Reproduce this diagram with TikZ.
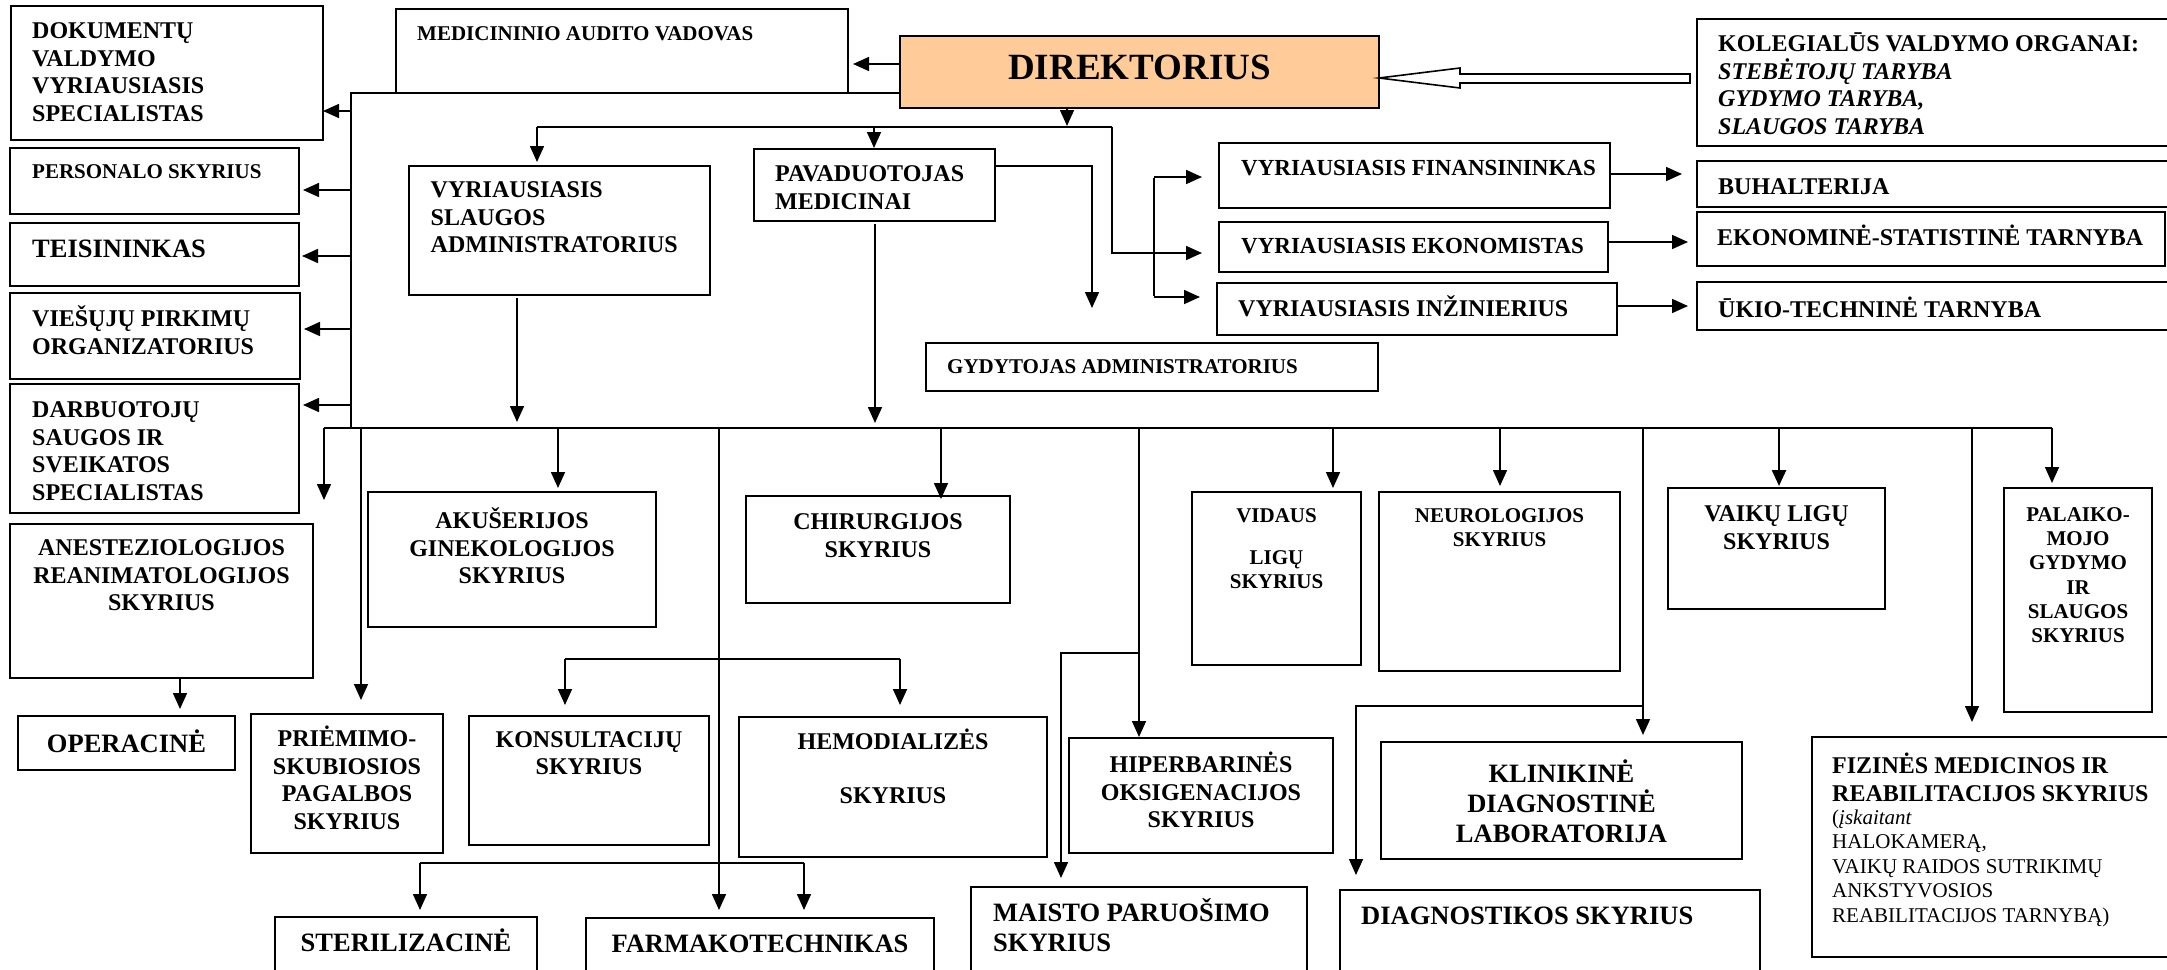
\documentclass[tikz,border=0pt]{standalone}
\usepackage{fontspec}
\setmainfont{Liberation Serif}
\usetikzlibrary{arrows.meta,
	positioning,
	fit,
	calc}
\definecolor{peach}{HTML}{FFCC99}
\tikzstyle{orgbox}=[draw, line width=2.2pt, inner sep=0, outer sep=0]
\tikzstyle{boss}=[orgbox, fill=peach]
\tikzstyle{lt}=[anchor=north west, inner sep=0, align=left]
\tikzstyle{ct}=[anchor=north, inner sep=0, align=center]
\tikzstyle{ln}=[line width=1.6pt]
\tikzstyle{arr}=[line width=1.6pt, -{Triangle[length=16pt,width=14pt]}]
\tikzstyle{hollow}=[draw, line width=1.6pt, fill=white]
\newcommand{\txs}{\bfseries\fontsize{21}{24.2}\selectfont}
\newcommand{\txf}{\bfseries\fontsize{23}{26}\selectfont}
\newcommand{\txm}{\bfseries\fontsize{24}{27.5}\selectfont}
\newcommand{\txl}{\bfseries\fontsize{26.5}{30}\selectfont}
\newcommand{\txr}{\fontsize{21}{24.5}\selectfont}
\newcommand{\strt}{\rule{0pt}{1em}}

\begin{document}
\begin{tikzpicture}[x=1pt, y=-1pt]
	\useasboundingbox (0,0) rectangle (2167,969);
	\clip (0,0) rectangle (2167,969);

	% boxes
	\node[orgbox, fit={(11,6) (323,140)}] (dok) {};
	\node[orgbox, fit={(10,148) (299,214)}] (pers) {};
	\node[orgbox, fit={(10,223) (299,286)}] (teis) {};
	\node[orgbox, fit={(10,293) (300,379)}] (vies) {};
	\node[orgbox, fit={(10,384) (299,513)}] (darb) {};
	\node[orgbox, fit={(10,524) (313,678)}] (anest) {};
	\node[orgbox, fit={(18,716) (235,770)}] (oper) {};
	\node[orgbox, fit={(396,9) (848,93)}] (med) {};
	\node[boss, fit={(900,36) (1379,108)}] (dir) {};
	\node[orgbox, fit={(1697,19) (2180,146)}] (kol) {};
	\node[orgbox, fit={(409,166) (710,295)}] (vslaug) {};
	\node[orgbox, fit={(754,149) (995,221)}] (pav) {};
	\node[orgbox, fit={(1219,143) (1610,208)}] (fin) {};
	\node[orgbox, fit={(1219,222) (1608,272)}] (ekon) {};
	\node[orgbox, fit={(1217,283) (1617,335)}] (inz) {};
	\node[orgbox, fit={(1697,161) (2180,207)}] (buh) {};
	\node[orgbox, fit={(1697,212) (2165,266)}] (ekst) {};
	\node[orgbox, fit={(1697,282) (2180,330)}] (ukio) {};
	\node[orgbox, fit={(926,343) (1378,391)}] (gyd) {};
	\node[orgbox, fit={(368,492) (656,627)}] (akus) {};
	\node[orgbox, fit={(746,496) (1010,603)}] (chir) {};
	\node[orgbox, fit={(251,714) (443,853)}] (prie) {};
	\node[orgbox, fit={(469,716) (709,845)}] (kons) {};
	\node[orgbox, fit={(739,717) (1047,857)}] (hemo) {};
	\node[orgbox, fit={(275,917) (537,995)}] (ster) {};
	\node[orgbox, fit={(586,918) (934,995)}] (farm) {};
	\node[orgbox, fit={(971,887) (1307,995)}] (mais) {};
	\node[orgbox, fit={(1192,492) (1361,665)}] (vid) {};
	\node[orgbox, fit={(1379,492) (1620,671)}] (neur) {};
	\node[orgbox, fit={(1668,488) (1885,609)}] (vaik) {};
	\node[orgbox, fit={(2004,488) (2152,712)}] (pal) {};
	\node[orgbox, fit={(1069,738) (1333,853)}] (hip) {};
	\node[orgbox, fit={(1381,742) (1742,859)}] (klin) {};
	\node[orgbox, fit={(1340,890) (1760,995)}] (diag) {};
	\node[orgbox, fit={(1812,737) (2180,957)}] (fiz) {};

	% texts
	\node[lt, font=\txm] (dok-t) at (32,14.7) {\strt DOKUMENTŲ\\VALDYMO\\VYRIAUSIASIS\\SPECIALISTAS};
	\node[lt, font=\txs] (pers-t) at (32,156.8) {\strt PERSONALO SKYRIUS};
	\node[lt, font=\txl] (teis-t) at (32,231) {\strt TEISININKAS};
	\node[lt, font=\txm] (vies-t) at (32,302.7) {\strt VIEŠŲJŲ PIRKIMŲ\\ORGANIZATORIUS};
	\node[lt, font=\txm] (darb-t) at (32,393.7) {\strt DARBUOTOJŲ\\SAUGOS IR\\SVEIKATOS\\SPECIALISTAS};
	\node[ct, font=\txm] (anest-t) at (161.5,531.7) {\strt ANESTEZIOLOGIJOS\\REANIMATOLOGIJOS\\SKYRIUS};
	\node[ct, font=\txl] (oper-t) at (126.5,726) {\strt OPERACINĖ};
	\node[lt, font=\txs] (med-t) at (417,18.8) {\strt MEDICININIO AUDITO VADOVAS};
	\node[ct, font=\bfseries\fontsize{37}{40}\selectfont] (dir-t) at (1139.5,42.2) {\strt DIREKTORIUS};
	\node[lt, font=\txm] (kol-t) at (1718,27.7) {\strt KOLEGIALŪS VALDYMO ORGANAI:\\\textit{STEBĖTOJŲ TARYBA}\\\textit{GYDYMO TARYBA,}\\\textit{SLAUGOS TARYBA}};
	\node[lt, font=\txm] (vslaug-t) at (430.5,173.7) {\strt VYRIAUSIASIS\\SLAUGOS\\ADMINISTRATORIUS};
	\node[lt, font=\txm] (pav-t) at (775,157.7) {\strt PAVADUOTOJAS\\MEDICINAI};
	\node[lt, font=\txf] (fin-t) at (1241,152) {\strt VYRIAUSIASIS FINANSININKAS};
	\node[lt, font=\txf] (ekon-t) at (1241,230) {\strt VYRIAUSIASIS EKONOMISTAS};
	\node[lt, font=\txm] (inz-t) at (1238,292.7) {\strt VYRIAUSIASIS INŽINIERIUS};
	\node[lt, font=\txm] (buh-t) at (1718,170.7) {\strt BUHALTERIJA};
	\node[lt, font=\txm] (ekst-t) at (1717,221.7) {\strt EKONOMINĖ-STATISTINĖ TARNYBA};
	\node[lt, font=\txm] (ukio-t) at (1718,293.7) {\strt ŪKIO-TECHNINĖ TARNYBA};
	\node[lt, font=\txs] (gyd-t) at (947,351.8) {\strt GYDYTOJAS ADMINISTRATORIUS};
	\node[ct, font=\txm] (akus-t) at (512,504.7) {\strt AKUŠERIJOS\\GINEKOLOGIJOS\\SKYRIUS};
	\node[ct, font=\txm] (chir-t) at (878,505.7) {\strt CHIRURGIJOS\\SKYRIUS};
	\node[ct, font=\txm] (prie-t) at (347,722.7) {\strt PRIĖMIMO-\\SKUBIOSIOS\\PAGALBOS\\SKYRIUS};
	\node[ct, font=\txm] (kons-t) at (589,723.2) {\strt KONSULTACIJŲ\\SKYRIUS};
	\node[ct, font=\txm] (hemo-t) at (893,725.7) {\strt HEMODIALIZĖS\\[26pt]SKYRIUS};
	\node[ct, font=\txl] (ster-t) at (406,925) {\strt STERILIZACINĖ};
	\node[ct, font=\txl] (farm-t) at (760,925.4) {\strt FARMAKOTECHNIKAS};
	\node[lt, font=\txl] (mais-t) at (993,895) {\strt MAISTO PARUOŠIMO\\SKYRIUS};
	\node[lt, font=\txl] (diag-t) at (1361,897.4) {\strt DIAGNOSTIKOS SKYRIUS};
	\node[ct, font=\txs] (vid-t) at (1276.5,501.3) {\strt VIDAUS\\[17.3pt]LIGŲ\\SKYRIUS};
	\node[ct, font=\txs] (neur-t) at (1499.5,501.3) {\strt NEUROLOGIJOS\\SKYRIUS};
	\node[ct, font=\txm] (vaik-t) at (1776.5,497.7) {\strt VAIKŲ LIGŲ\\SKYRIUS};
	\node[ct, font=\txs] (pal-t) at (2078,500.3) {\strt PALAIKO-\\MOJO\\GYDYMO\\IR\\SLAUGOS\\SKYRIUS};
	\node[ct, font=\txm] (hip-t) at (1201,748.7) {\strt HIPERBARINĖS\\OKSIGENACIJOS\\SKYRIUS};
	\node[ct, font=\txl] (klin-t) at (1561.5,756) {\strt KLINIKINĖ\\DIAGNOSTINĖ\\LABORATORIJA};
	\node[lt, font=\txm] (fiz-t) at (1832,749.7) {\strt FIZINĖS MEDICINOS IR\\REABILITACIJOS SKYRIUS};
	\node[lt, font=\txr] (fiz-r) at (1832,802.8) {\strt (\textit{įskaitant}\\HALOKAMERĄ,\\VAIKŲ RAIDOS SUTRIKIMŲ\\ANKSTYVOSIOS\\REABILITACIJOS TARNYBĄ)};

	% top connectors
	\coordinate (spine) at (351,428);
	\coordinate (busL) at (324,428);
	\coordinate (busR) at (2052,428);
	\draw[hollow] (dir.east |- 0,78) -- ++(81,-10) -- ++(0,6) -- ++(230,0) -- ++(0,9) -- ++(-230,0) -- ++(0,5) -- cycle;
	\draw[arr, shorten >=5pt] (dir.west |- 0,64) -- (med.east |- 0,64);
	\draw[ln] (dir.west |- 0,93) -| (spine);
	\foreach \b/\y/\g in {dok/111/0, pers/190/4, teis/256/3, vies/329/4, darb/405/4}
		\draw[arr, shorten >=\g pt] (spine |- 0,\y) -- (\b.east |- 0,\y);

	\coordinate (h1L) at (537,127);
	\coordinate (h1R) at (1112,127);
	\draw[arr] (dir.south -| 1067,0) -- (1067,126);
	\draw[ln] (h1L) -- (h1R);
	\draw[arr, shorten >=4pt] (h1L) -- (vslaug.north -| h1L);
	\draw[arr, shorten >=1pt] (874,127) -- (pav.north -| 874,0);
	\draw[ln] (h1R) |- (1154,253);
	\draw[ln] (1154,178) -- (1154,296);
	\foreach \b/\y in {fin/177, ekon/253, inz/297}
		\draw[arr, shorten >=17pt] (1154,\y) -- (\b.west |- 0,\y);
	\draw[arr] (pav.east |- 0,166) -| (1092,308);
	\foreach \a/\b/\y/\g in {fin/buh/174/15, ekon/ekst/242/9, inz/ukio/306/9}
		\draw[arr, shorten >=\g pt] (\a.east |- 0,\y) -- (\b.west |- 0,\y);
	\draw[arr, shorten <=3pt, shorten >=6pt] (vslaug.south -| 517,0) -- (spine -| 517,0);
	\draw[arr, shorten <=3pt, shorten >=5pt] (pav.south -| 875,0) -- (spine -| 875,0);

	% bus and drops
	\draw[ln, line width=2pt] (busL) -- (busR);
	\foreach \x/\b/\g in {324/anest/24, 558/akus/4, 941/chir/-3, 1333/vid/4, 1500/neur/6, 2052/pal/5}
		\draw[arr, shorten >=\g pt] (spine -| \x,0) -- (\b.north -| \x,0);
	\draw[arr, line width=2.4pt, shorten >=2pt] (spine -| 1779,0) -- (vaik.north -| 1779,0);
	\draw[arr, shorten >=14pt] (spine -| 361,0) -- (prie.north -| 361,0);
	\draw[arr, shorten >=8pt] (spine -| 719,0) -- (farm.north -| 719,0);
	\draw[ln] (565,659) -- (900,659);
	\draw[arr, shorten >=11pt] (565,659) -- (kons.north -| 565,0);
	\draw[arr, shorten >=12pt] (900,659) -- (hemo.north -| 900,0);
	\draw[ln] (420,863) -- (804,863);
	\draw[arr, shorten >=7pt] (420,863) -- (ster.north -| 420,0);
	\draw[arr, shorten >=8pt] (804,863) -- (farm.north -| 804,0);
	\draw[arr, shorten >=1pt] (spine -| 1139,0) -- (hip.north -| 1139,0);
	\draw[arr, shorten >=9pt] (1139,653) -| (mais.north -| 1061,0);
	\draw[arr, shorten >=7pt] (spine -| 1643,0) -- (klin.north -| 1643,0);
	\draw[arr, shorten >=15pt] (1643,706) -| (diag.north -| 1356,0);
	\draw[arr, shorten >=15pt] (spine -| 1972,0) -- (fiz.north -| 1972,0);
	\draw[arr, shorten >=7pt] (anest.south -| 180,0) -- (oper.north -| 180,0);
\end{tikzpicture}
\end{document}
